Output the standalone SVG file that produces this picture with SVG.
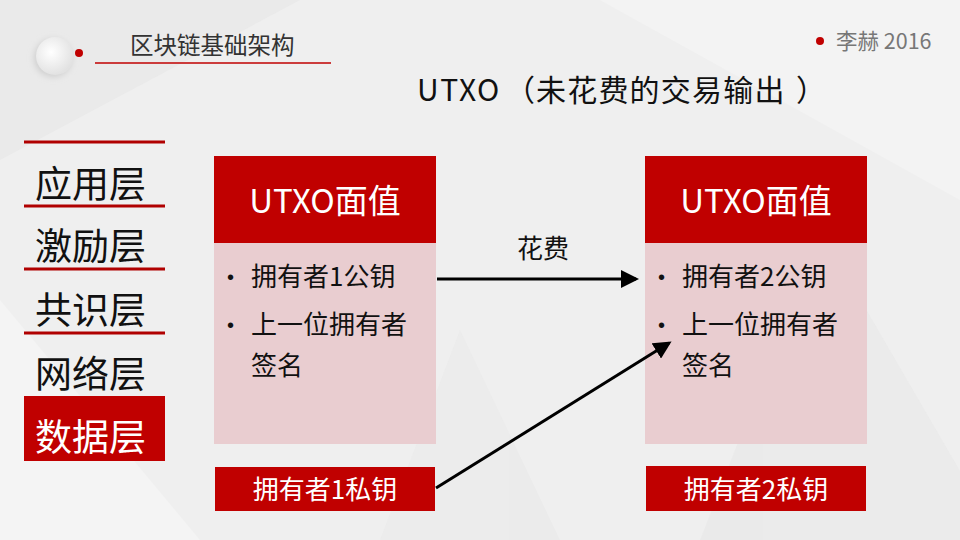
<svg xmlns="http://www.w3.org/2000/svg" width="960" height="540" viewBox="0 0 960 540">
<defs>
<style>
text{font-family:"Noto Sans CJK SC","Microsoft YaHei","Liberation Sans",sans-serif;}
.hd{fill:#c00000;}
.bd{fill:#e9cdd0;}
.ht{fill:#ffffff;font-size:33px;text-anchor:middle;}
.bt{fill:#111111;font-size:26px;}
.bu{fill:#111111;font-size:20px;font-family:"Liberation Sans",sans-serif;}
.kt{fill:#ffffff;font-size:26px;text-anchor:middle;}
.lay{fill:#111111;font-size:37px;}
.rl{stroke:#b00000;stroke-width:3;}
.ti{fill:#111111;font-size:30px;}
.conn{stroke:#000;stroke-width:3;fill:none;marker-end:url(#ah);}
</style>
<marker id="ah" markerWidth="6" markerHeight="6" refX="5" refY="3" orient="auto" markerUnits="strokeWidth">
<path d="M0,0 L6,3 L0,6 Z" fill="#000"/>
</marker>
<radialGradient id="cg" cx="0.4" cy="0.4" r="0.6">
<stop offset="0" stop-color="#ffffff"/>
<stop offset="1" stop-color="#e2e2e2"/>
</radialGradient>
<filter id="sh" x="-50%" y="-50%" width="200%" height="200%">
<feGaussianBlur stdDeviation="3"/>
</filter>
</defs>
<rect width="960" height="540" fill="#efefef"/>
<g opacity="0.6">
<polygon points="0,0 300,0 0,160" fill="#e6e6e6"/>
<polygon points="600,0 960,0 960,200" fill="#f6f6f6"/>
<polygon points="0,300 200,540 0,540" fill="#f7f7f7"/>
<polygon points="820,230 1000,540 700,540" fill="#e8e8e8"/>
<polygon points="460,330 560,540 380,540" fill="#e9e9e9"/>
</g>
<g id="header">
<circle cx="53" cy="58" r="19" fill="#cfcfcf" filter="url(#sh)"/>
<circle cx="55" cy="56" r="19" fill="url(#cg)"/>
<circle cx="79" cy="53" r="4" fill="#c00000"/>
<text x="130" y="54" font-size="23.5" fill="#333">区块链基础架构</text>
<line x1="95" y1="63" x2="331" y2="63" stroke="#c00000" stroke-width="1.5"/>
<circle cx="820" cy="41" r="4" fill="#c00000"/>
<text x="836" y="49" font-size="21.5" fill="#777">李赫 2016</text>
<text class="ti" x="417" y="101"><tspan letter-spacing="1.5">UTXO</tspan><tspan x="505">（</tspan><tspan x="536" letter-spacing="1.2">未花费的交易输出</tspan><tspan x="796">）</tspan></text>
</g>
<g id="layers">
<line class="rl" x1="24" y1="142" x2="165" y2="142"/>
<text class="lay" x="35" y="198">应用层</text>
<line class="rl" x1="24" y1="206" x2="165" y2="206"/>
<text class="lay" x="35" y="260">激励层</text>
<line class="rl" x1="24" y1="269" x2="165" y2="269"/>
<text class="lay" x="35" y="324">共识层</text>
<line class="rl" x1="24" y1="333" x2="165" y2="333"/>
<text class="lay" x="35" y="388">网络层</text>
<rect x="24" y="396" width="141" height="65" fill="#c00000"/>
<text class="lay" x="35" y="451" style="fill:#fff">数据层</text>
</g>
<g id="utxo1">
<rect class="hd" x="214" y="156" width="222" height="87"/>
<rect class="bd" x="214" y="243" width="222" height="201"/>
<text class="ht" x="325" y="213">UTXO面值</text>
<text class="bu" x="227" y="284">•</text>
<text class="bt" x="251" y="286">拥有者1公钥</text>
<text class="bu" x="227" y="332">•</text>
<text class="bt" x="251" y="334">上一位拥有者</text>
<text class="bt" x="251" y="375">签名</text>
</g>
<g id="key1">
<rect class="hd" x="215" y="467" width="220" height="44"/>
<text class="kt" x="325" y="499">拥有者1私钥</text>
</g>
<g id="utxo2">
<rect class="hd" x="645" y="156" width="222" height="87"/>
<rect class="bd" x="645" y="243" width="222" height="201"/>
<text class="ht" x="756" y="213">UTXO面值</text>
<text class="bu" x="658" y="284">•</text>
<text class="bt" x="682" y="286">拥有者2公钥</text>
<text class="bu" x="658" y="332">•</text>
<text class="bt" x="682" y="334">上一位拥有者</text>
<text class="bt" x="682" y="375">签名</text>
</g>
<g id="key2">
<rect class="hd" x="646" y="466" width="220" height="45"/>
<text class="kt" x="756" y="499">拥有者2私钥</text>
</g>
<g id="connectors">
<line class="conn" x1="437" y1="279" x2="636" y2="279"/>
<text x="517" y="258" font-size="26" fill="#111">花费</text>
<line class="conn" x1="436" y1="488" x2="669" y2="343"/>
</g>
</svg>
